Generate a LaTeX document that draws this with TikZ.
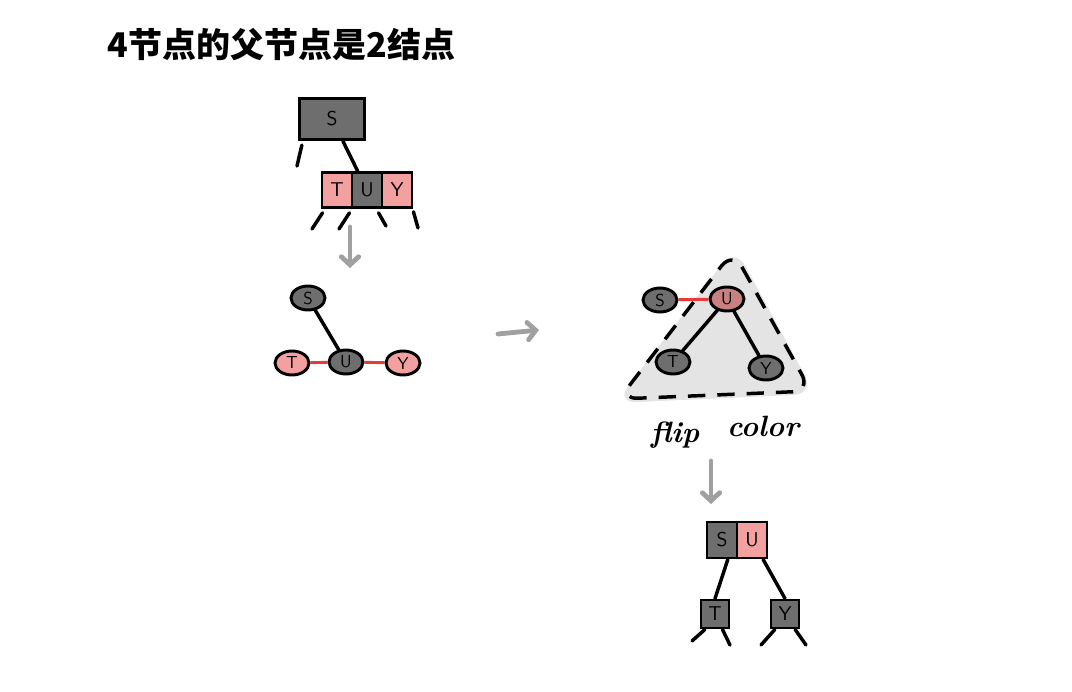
\documentclass[tikz,border=0pt]{standalone}
\usepackage{fontspec}
\newfontfamily\cjk{Noto Sans CJK SC}
\usepackage{tikz}
\usetikzlibrary{positioning,shapes.geometric,arrows.meta}

\definecolor{nodegrey}{HTML}{6E6E6E}
\definecolor{nodepink}{HTML}{F2A0A0}
\definecolor{darkpink}{HTML}{C98080}
\definecolor{shadegrey}{HTML}{E4E4E4}
\definecolor{arrowgrey}{HTML}{A0A0A0}
\definecolor{linkred}{HTML}{E83A3A}

\tikzset{
  cell/.style={draw, line width=2.2pt, inner sep=0pt, minimum width=22.5pt,
    minimum height=26pt, font=\sffamily\fontsize{15}{18}\selectfont},
  blackcell/.style={cell, fill=nodegrey},
  redcell/.style={cell, fill=nodepink},
  oval/.style={ellipse, draw, line width=2.2pt, inner sep=0pt, minimum width=25.5pt,
    minimum height=18pt, font=\sffamily\fontsize{13}{15}\selectfont},
  blackoval/.style={oval, fill=nodegrey},
  redoval/.style={oval, fill=nodepink},
  stroke/.style={line width=2.6pt, line cap=round},
  redlink/.style={draw=linkred, line width=2.2pt},
  moveto/.style={draw=arrowgrey, line width=3.6pt, line cap=round,
    -{Straight Barb[length=6pt,width=13pt,line cap=round]}},
  hand/.style={font=\fontsize{22}{24}\selectfont\bfseries\itshape}
}

\begin{document}
\begin{tikzpicture}[x=0.75pt,y=-0.75pt,node distance=22.5pt,on grid]
   \useasboundingbox (0,0) rectangle (1072,692);

   % title
   \node[anchor=west, font=\cjk\bfseries\fontsize{25.5}{28}\selectfont] (title) at (103,45) {4节点的父节点是2结点};

   % 4-node under a 2-node
   \node[blackcell, minimum width=49pt, minimum height=31pt] (S_0) at (332,119) {S};
   \node[blackcell] (U_0) at (367,190) {U};
   \node[redcell]   (T_0) [left=of U_0]  {T};
   \node[redcell]   (Y_0) [right=of U_0] {Y};

   \coordinate (s0l) at (297,166);
   \coordinate (t0a) at (312,229);
   \coordinate (t0b) at (339,229);
   \coordinate (y0a) at (386,226);
   \coordinate (y0b) at (418,228);

   \path[stroke]
    (S_0) edge (U_0)
    ([shift={(4,4)}]S_0.south west) edge (s0l)
    ([shift={(2,4)}]T_0.south west) edge (t0a)
    ([shift={(-4,4)}]T_0.south east) edge (t0b)
    ([shift={(-2,4)}]Y_0.south west) edge (y0a)
    ([shift={(0,3)}]Y_0.south east) edge (y0b);

   \coordinate (a1s) at (350,227);
   \coordinate (a1e) at (350,268);
   \draw[moveto] (a1s) -- (a1e);

   % split into red links
   \node[blackoval] (S_1) at (308,298) {S};
   \node[blackoval] (U_1) at (346,362) {U};
   \node[redoval]   (T_1) at (292,363) {T};
   \node[redoval]   (Y_1) at (403,363) {Y};

   \path[stroke] (S_1) edge (U_1);
   \path[redlink]
    (T_1) edge (U_1)
    (U_1) edge (Y_1);

   \coordinate (a2s) at (498,334);
   \coordinate (a2e) at (539,330);
   \draw[moveto] (a2s) -- (a2e);

   % rotate and flip colour
   \fill[shadegrey, rounded corners=16pt] (735,247) -- (815,394) -- (615,403) -- cycle;
   \draw[line width=2.6pt, dash pattern=on 13pt off 9pt, rounded corners=14pt]
     (733,251) -- (811,391) -- (619,399) -- cycle;

   \node[blackoval] (S_2) at (660,300) {S};
   \node[oval, fill=darkpink] (U_2) at (727,299) {U};
   \node[blackoval] (T_2) at (673,362) {T};
   \node[blackoval] (Y_2) at (766,368) {Y};

   \path[redlink] (S_2) edge (U_2);
   \path[stroke]
    (U_2) edge (T_2)
    (U_2) edge (Y_2);

   \node[hand] (flip)  at (675,435) {flip};
   \node[hand] (color) at (763,426) {color};

   \coordinate (a3s) at (711,461);
   \coordinate (a3e) at (711,504);
   \draw[moveto] (a3s) -- (a3e);

   % result: 3-node with two children
   \node[blackcell, minimum height=27pt] (S_3) at (722,540) {S};
   \node[redcell, minimum height=27pt]   (U_3) [right=of S_3] {U};
   \node[blackcell, minimum width=21pt, minimum height=21pt] (T_4) at (715,614) {T};
   \node[blackcell, minimum width=21pt, minimum height=21pt] (Y_4) at (785,614) {Y};

   \coordinate (t4a) at (692,641);
   \coordinate (t4b) at (730,645);
   \coordinate (y4a) at (761,645);
   \coordinate (y4b) at (806,645);

   \path[stroke]
    ([xshift=-8]S_3.south east) edge (T_4.north)
    ([xshift=-4]U_3.south east) edge (Y_4.north)
    ([xshift=4]T_4.south west) edge (t4a)
    ([xshift=-6]T_4.south east) edge (t4b)
    ([xshift=4]Y_4.south west) edge (y4a)
    ([xshift=-4]Y_4.south east) edge (y4b);
\end{tikzpicture}
\end{document}
